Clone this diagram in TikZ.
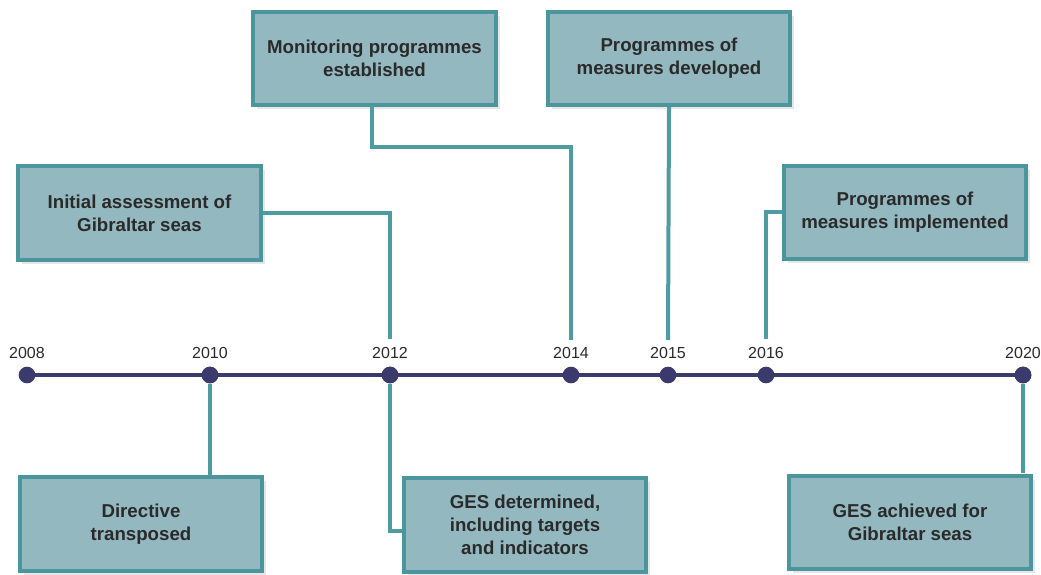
\documentclass[tikz,border=0pt]{standalone}
\usepackage{fontspec}
\setmainfont{Liberation Sans}
\usetikzlibrary{shadows}
\definecolor{boxfill}{HTML}{94B8C0}
\definecolor{boxline}{HTML}{4A969C}
\definecolor{conn}{HTML}{4E9CA2}
\definecolor{navy}{HTML}{3A3A6C}
\definecolor{txt}{HTML}{2A2A2A}
\tikzset{
  evbox/.style={draw=boxline, fill=boxfill, line width=3pt, minimum width=182pt, minimum height=70pt,
    align=center, font=\fontsize{14}{17.3}\selectfont\bfseries, text=txt, inner sep=0pt,
    drop shadow={opacity=0.2, shadow xshift=3pt, shadow yshift=-3pt}},
  conline/.style={draw=conn, line width=3pt},
  dot/.style={circle, fill=navy, minimum size=12.5pt, inner sep=0pt},
  yearlbl/.style={font=\fontsize{12}{14}\selectfont, text=txt}
}
\begin{document}
\begin{tikzpicture}[x=0.75pt, y=-0.75pt]
\useasboundingbox (0,0) rectangle (1041,574);
% boxes
\node[evbox] (b1) at (139.5,213) {Initial assessment of\\Gibraltar seas};
\node[evbox] (b2) at (374.5,58.5) {Monitoring programmes\\established};
\node[evbox] (b3) at (669,58.5) {Programmes of\\measures developed};
\node[evbox] (b4) at (905,212.5) {Programmes of\\measures implemented};
\node[evbox] (b5) at (141,524) {Directive\\transposed};
\node[evbox] (b6) at (525,525) {GES determined,\\including targets\\and indicators};
\node[evbox] (b7) at (910,522.5) {GES achieved for\\Gibraltar seas};
% timeline
\coordinate (t08) at (27,375);
\coordinate (t10) at (210,375);
\coordinate (t12) at (390,375);
\coordinate (t14) at (571,375);
\coordinate (t15) at (668,375);
\coordinate (t16) at (766,375);
\coordinate (t20) at (1023,375);
\draw[navy, line width=2.3pt] (t08) -- (t20);
\foreach \n in {t08,t10,t12,t14,t15,t16,t20} \node[dot] (d\n) at (\n) {};
\node[yearlbl] (y08) at (27,353) {2008};
\node[yearlbl] (y10) at (210,353) {2010};
\node[yearlbl] (y12) at (390,353) {2012};
\node[yearlbl] (y14) at (571,353) {2014};
\node[yearlbl] (y15) at (668,353) {2015};
\node[yearlbl] (y16) at (766,353) {2016};
\node[yearlbl] (y20) at (1023,353) {2020};
% connector ends above the timeline
\coordinate (e12) at (390,339);
\coordinate (e14) at (571,340);
\coordinate (e15) at (668,340);
\coordinate (e16) at (766,339);
% connectors
\draw[conline] (b1.east |- 0,213) -- (390,213) -- (e12);
\draw[conline] (372,106) -- (372,147) -- (571,147) -- (e14);
\draw[conline] (b3.south) -- (e15);
\draw[conline] (b4.west |- 0,212) -- (766,212) -- (e16);
\draw[conline] (dt10) -- (210,476);
\draw[conline] (dt12) -- (390,531) -- (b6.west |- 0,531);
\draw[conline] (dt20) -- (1023,473);
\foreach \n in {t10,t12,t20} \node[dot] at (\n) {};
\end{tikzpicture}
\end{document}
